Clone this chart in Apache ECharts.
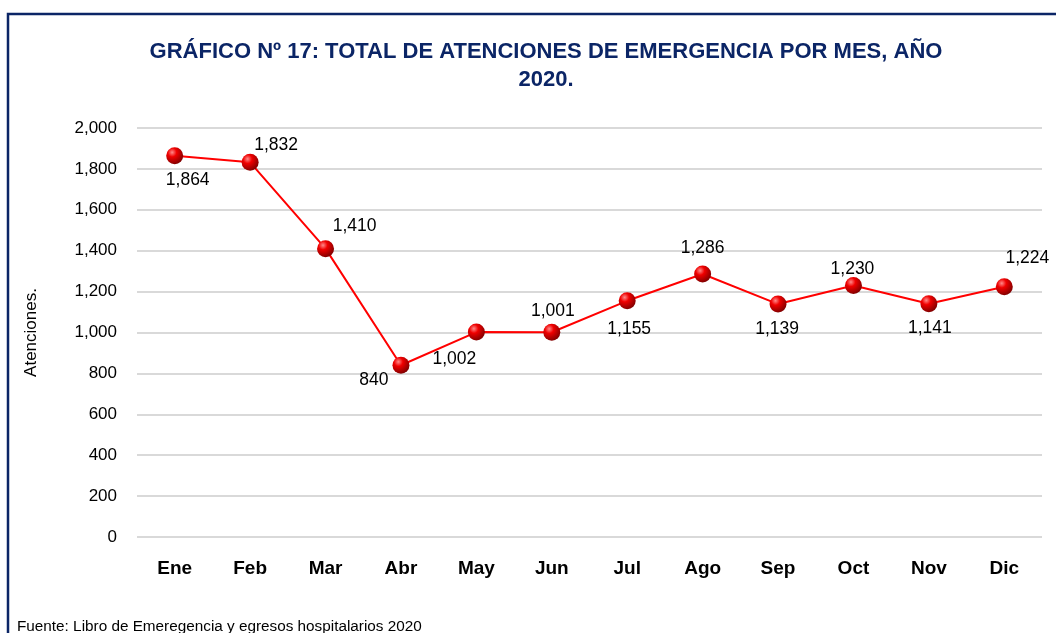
<!DOCTYPE html>
<html><head><meta charset="utf-8">
<script src="https://cdn.jsdelivr.net/npm/echarts@6/dist/echarts.min.js"></script>
<style>html,body{margin:0;padding:0;background:#fff}#c{width:1056px;height:633px}</style>
</head><body><div id="c"></div>
<script>
var categories = ['Ene','Feb','Mar','Abr','May','Jun','Jul','Ago','Sep','Oct','Nov','Dic'];
var values = [1864,1832,1410,840,1002,1001,1155,1286,1139,1230,1141,1224];
var yTicks = [0,200,400,600,800,1000,1200,1400,1600,1800,2000];
var labelOffsets = [[13,24],[26,-17],[29,-22],[-27,15],[-22,27],[1,-21],[2,28],[0,-26],[-1,25],[-1,-16],[1,25],[23,-29]];
var FONT = '"Liberation Sans",Arial,sans-serif';
var chart = echarts.init(document.getElementById('c'));
var markerColor = new echarts.graphic.RadialGradient(0.35,0.3,0.75,[
  {offset:0,color:'#ff8a8a'},{offset:0.35,color:'#f00000'},{offset:1,color:'#7a0000'}]);
chart.setOption({
  animation:false,
  backgroundColor:'#fff',
  graphic:[{type:'rect',shape:{x:8,y:14,width:1200,height:800},style:{fill:'none',stroke:'#0b2566',lineWidth:2.5},silent:true}],
  title:{text:'GRÁFICO Nº 17: TOTAL DE ATENCIONES DE EMERGENCIA POR MES, AÑO\n2020.',left:541,top:33,textAlign:'center',
    textStyle:{fontFamily:FONT,fontWeight:'bold',fontSize:22,color:'#0b2566',lineHeight:28}},
  grid:{left:137,right:14,top:128,bottom:96},
  xAxis:{type:'category',data:categories,boundaryGap:true,
    axisLine:{show:false},axisTick:{show:false},
    axisLabel:{fontFamily:FONT,fontWeight:'bold',fontSize:19,color:'#000',margin:22}},
  yAxis:{type:'value',min:0,max:2000,interval:200,
    name:'Atenciones.',nameLocation:'middle',nameGap:97,nameRotate:90,
    nameTextStyle:{fontFamily:FONT,fontSize:17,color:'#000'},
    axisLine:{show:false},axisTick:{show:false},
    splitLine:{lineStyle:{color:'#d9d9d9',width:2}},
    axisLabel:{fontFamily:FONT,fontSize:17,color:'#000',margin:20,
      formatter:function(v){return yTicks.indexOf(v)>=0?v.toLocaleString('en-US'):'';}}},
  series:[{type:'line',
    data:values.map(function(v,i){return {value:v,label:{offset:labelOffsets[i]}};}),
    symbol:'circle',symbolSize:17,
    lineStyle:{color:'#ff0000',width:2},
    itemStyle:{color:markerColor,borderWidth:0},
    label:{show:true,position:'inside',fontFamily:FONT,fontSize:17.5,color:'#000',
      formatter:function(p){return p.value.toLocaleString('en-US');}}
  }]
});
chart.getZr().add(new echarts.graphic.Text({style:{text:'Fuente: Libro de Emeregencia y egresos hospitalarios 2020',x:17,y:619,
  font:'15.3px '+FONT,fill:'#000'}}));
</script></body></html>
